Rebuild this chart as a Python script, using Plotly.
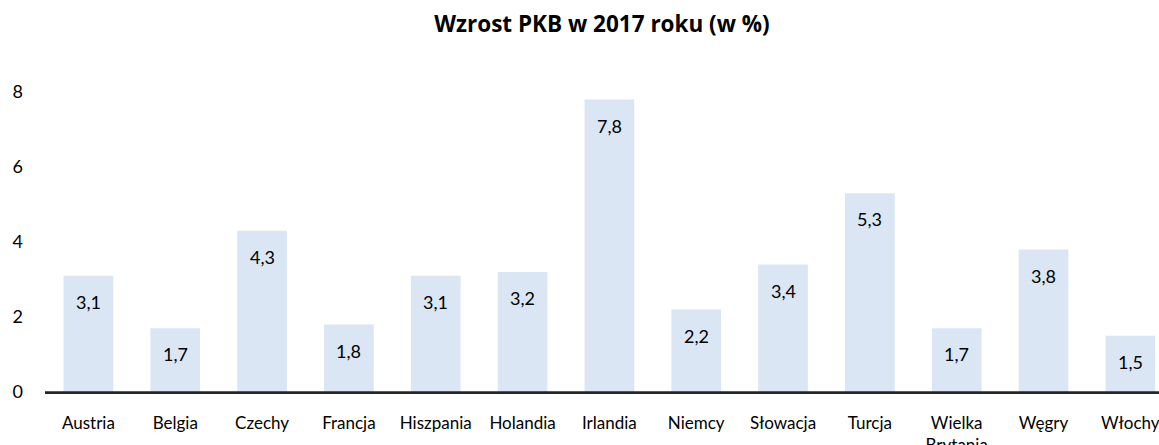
import plotly.graph_objects as go

categories = ["Austria", "Belgia", "Czechy", "Francja", "Hiszpania", "Holandia", "Irlandia",
              "Niemcy", "Słowacja", "Turcja", "Wielka<br>Brytania", "Węgry", "Włochy"]
values = [3.1, 1.7, 4.3, 1.8, 3.1, 3.2, 7.8, 2.2, 3.4, 5.3, 1.7, 3.8, 1.5]
y_ticks = [0, 2, 4, 6, 8]
title_text = "Wzrost PKB w 2017 roku (w %)"

FONT = "Lato"
TITLE_FONT = "Open Sans"
BAR_COLOR = "#DAE6F4"

x_idx = list(range(len(categories)))

fig = go.Figure()
fig.add_trace(go.Bar(
    x=x_idx, y=values, width=0.572,
    marker=dict(color=BAR_COLOR, line=dict(width=0)),
    hoverinfo="skip",
))

for xi, v in zip(x_idx, values):
    fig.add_annotation(
        x=xi, y=v, xref="x", yref="y",
        text=f"{v:.1f}".replace(".", ","),
        showarrow=False, yanchor="middle", xanchor="center",
        yshift=-26,
        font=dict(family=FONT, size=18, color="#000000"),
    )

fig.update_layout(
    width=1159, height=445,
    margin=dict(l=45, r=0, t=92, b=53),
    paper_bgcolor="white", plot_bgcolor="white",
    showlegend=False,
    title=dict(
        text="<b>" + title_text + "</b>",
        x=602 / 1159, xanchor="center",
        y=1 - 24 / 445, yanchor="middle",
        font=dict(family=TITLE_FONT, size=22.5, color="#000000"),
    ),
    xaxis=dict(
        tickmode="array", tickvals=x_idx, ticktext=categories,
        range=[-0.5, 12.33],
        showgrid=False, zeroline=False,
        showline=True, linecolor="#262626", linewidth=1.5,
        ticks="",
        ticklabelstandoff=15,
        ticklabeloverflow="allow",
        automargin=False,
        tickfont=dict(family=FONT, size=17, color="#000000"),
        fixedrange=True,
    ),
    yaxis=dict(
        range=[0, 8],
        tickmode="array", tickvals=y_ticks,
        ticktext=[str(t) for t in y_ticks],
        showgrid=False, zeroline=False, showline=False,
        ticks="",
        ticklabelstandoff=21,
        automargin=False,
        tickfont=dict(family=FONT, size=18, color="#000000"),
        fixedrange=True,
    ),
)

# baseline drawn explicitly in paper coordinates so it is never clipped
fig.add_shape(type="line", xref="paper", yref="paper", x0=0, x1=1, y0=0, y1=0,
              line=dict(color="#262626", width=1.5), layer="above")

fig.write_html(
    "out.html",
    config={"displayModeBar": False},
    post_script="document.body.style.margin='0';document.body.style.overflow='hidden';",
)
